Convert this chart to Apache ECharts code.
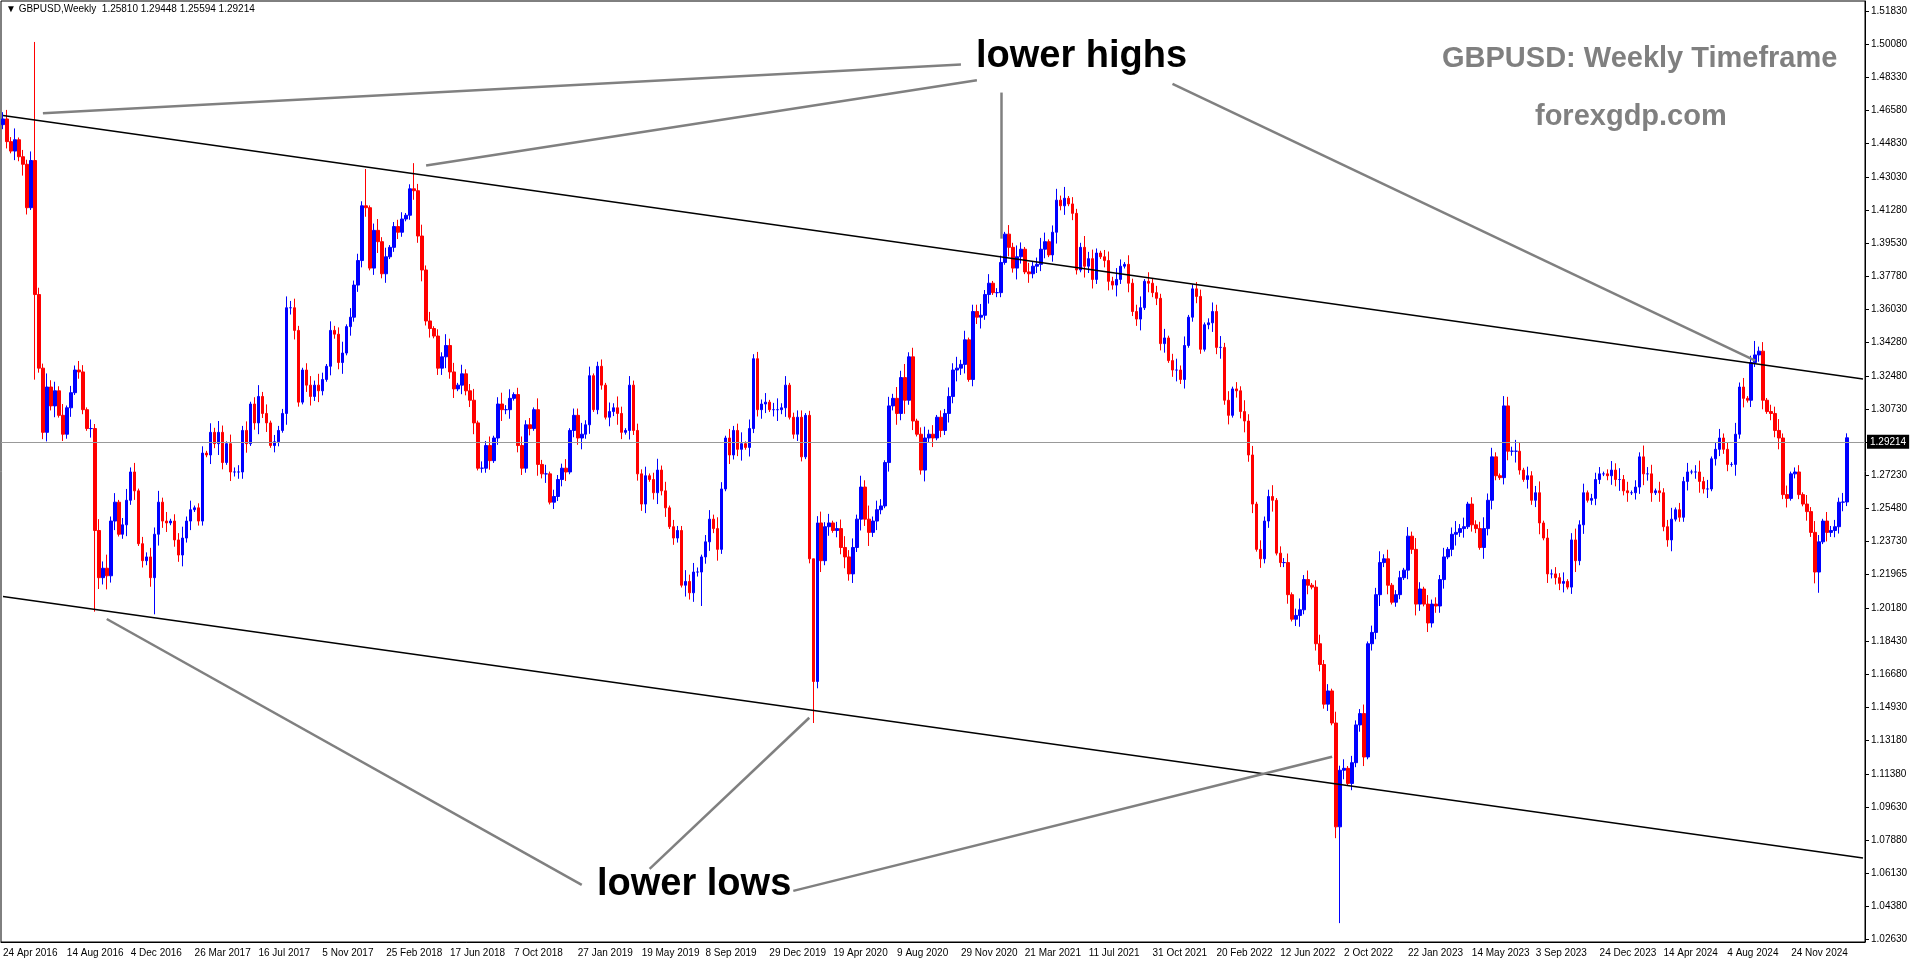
<!DOCTYPE html>
<html><head><meta charset="utf-8">
<script src="https://cdn.jsdelivr.net/npm/echarts@6/dist/echarts.min.js"></script>
<style>html,body{margin:0;padding:0;background:#fff}#c{width:1916px;height:964px}</style>
</head><body><div id="c"></div>
<script>
// weekly closes in 1/10000 units, from week of 24 Apr 2016
const closes2016_2019 = [
14610,14490,14440,14500,14410,14370,14140,14390,13680,13290,
12950,13190,13090,13170,13040,12940,13080,13160,13280,13270,
13070,12970,12970,12430,12180,12230,12190,12480,12580,12410,
12460,12590,12740,12640,12360,12270,12290,12180,12410,12580,
12480,12470,12480,12380,12300,12390,12480,12540,12550,12480,
12840,12830,12950,12890,12950,12790,12890,12740,12740,12740,
12960,12890,13100,13000,13140,13050,13000,12880,12900,12960,
13050,13610,13610,13490,13110,13280,13200,13140,13200,13170,
13230,13300,13490,13470,13320,13370,13510,13560,13730,13860,
14150,14140,13820,14020,13960,13790,13880,13930,14040,14010,
14080,14100,14240,14230,13990,13810,13540,13500,13460,13290,
13350,13410,13270,13180,13200,13260,13170,13120,13000,12760,
12760,12880,12800,12920,13100,13070,13070,13130,13150,12880,
12760,12990,12970,13070,12780,12730,12730,12580,12610,12700,
12760,12740,12960,13040,12920,12940,12990,13250,13070,13300,
13200,13030,13060,13080,13050,12950,12960,13200,12960,12730,
12570,12720,12700,12630,12750,12640,12550,12450,12390,12430,
12140,12160,12100,12210,12210,12290,12370,12490,12440,12330,
12650,12920,12830,12960,12860,12890,12870,12970,13340,13070,
13100,13110,13070];
const closes2020 = [13070,13070,13080,13200, 13030,12940,13030,12820, 13040,12280,11630,12470,12270,
12450,12470,12430,12440, 12340,12290,12200,12340,12490, 12660,12490,12420,12480, 12540,12560,12790,13090,
13130,13050,13240,13120,13350, 13010,12940,12750,12920, 12940,12920,13030,12960, 13050,13140,13280,13290,13310,
13440,13230,13590,13560];
const closes2021 = [13570,13680,13740,13690,13690, 13850,14000,13930,13820, 13880,13920,13800,13790, 13830,13840,13920,13960,
13890,14010,14180,14150,14190, 14160,14110,13810,13930, 13830,13870,13760,13900, 13880,13860,13750,13730,13760,
13830,13840,13740,13590, 13550,13610,13750,13740,13690, 13660,13420,13450,13330, 13280,13280,13230,13410];
const closes2022 = [13560,13710,13670,13390,13520, 13530,13590,13400,13400, 13120,13040,13180,13170, 13060,13010,12830,12570,
12330,12280,12480,12610,12590, 12310,12260,12260,12090, 11960,11980,12010,12170,12140, 12130,11830,11720,11510,
11580,11410,10860,11160, 11170,11090,11200,11400,11460, 11230,11830,11890,12090, 12260,12280,12140,12050];
const closes2023 = [12090,12180,12220,12400,12330, 12040,12120,12040,11940, 12040,12030,12170,12290, 12330,12410,12420,12440,12450,
12570,12460,12440,12340, 12440,12590,12820,12720, 12710,13090,12850,12850,12850, 12750,12700,12720,12590,
12630,12470,12390,12200, 12200,12180,12150,12160,12130, 12380,12270,12460,12630, 12590,12600,12700,12730,12730];
const closes2024 = [12720,12750,12700,12700, 12640,12630,12630,12660, 12820,12730,12730,12630,12640, 12630,12450,12380,12490,
12540,12500,12690,12740, 12740,12740,12690,12650,12650, 12810,12860,12920,12860, 12780,12780,12940,13190,
13130,13120,13320,13360,13380, 13120,13060,13050,12960, 12920,12620,12600,12730, 12740,12620,12570,12530,12420];
const closes2025 = [12210,12370,12480,12420, 12430,12450,12580,12581, 12921];
const firstOpen = 14580;
// upper / lower wick sizes, unit = 12 pips
const upperWicks = "3425132413 2634251324 3142536241 3524132435 2413352412 3142531423 2413524132 2534213425 3142351423 2413524123 3124352413 2534142351 3241352413 4231524132 2413352412 3142531423 2413524132 2534213425 3142351423 2413524123 3124352413 4534253624 3142536241 3524132435 2413352412 3142531423 5413524132 2534213425 3142351423 2413524123 3124352413 2534142351 3241352413 4231524132 2413352412 3142531423 2413524132 3534213425 4142351423 2413524123 3124352413 2534142351 3241352413 4231524132 2413352412 3142531423 241";
const lowerWicks = "2314253142 3425132413 2142536341 2524132435 3413352412 2142531423 3413524132 1534213425 2142351423 3413524123 2124352413 3534142351 2241352413 3231524132 3413352412 2142531423 3413524132 1534213425 2142351423 4413524123 2124352413 3534253624 2142536241 2524132435 3413352412 2142531423 3413524132 1534213425 2142351423 3413524123 2124352413 3534142351 2241352413 3231524132 3413352412 2142531423 3413524132 1534213425 2142351423 3413524123 2124352413 3534142351 2241352413 3231524132 3413352412 2142531423 342";
// notable extremes
const spikeDates = ["19 Jun 2016","2 Oct 2016","15 Jan 2017","21 Jan 2018","15 Apr 2018","1 Sep 2019","15 Mar 2020","30 May 2021","25 Sep 2022","9 Jul 2023","22 Sep 2024","12 Jan 2025","2 Mar 2025"];
const spikeHigh  = [1.5018,null,null,1.4345,1.4376,null,1.2200,1.4250,null,1.3142,1.3434,null,1.29448];
const spikeLow   = [1.3229,1.2000,1.1986,null,null,1.2030,1.1410,null,1.0350,null,null,1.2100,1.25594];
const yTicks = [1.51830,1.50080,1.48330,1.46580,1.44830,1.43030,1.41280,1.39530,1.37780,1.36030,1.34280,1.32480,1.30730,1.28980,1.27230,1.25480,1.23730,1.21965,1.20180,1.18430,1.16680,1.14930,1.13180,1.11380,1.09630,1.07880,1.06130,1.04380,1.02630];
const lastPrice = 1.29214;

const closes = [].concat(closes2016_2019,closes2020,closes2021,closes2022,closes2023,closes2024,closes2025).map(v=>v/10000);
const up = upperWicks.replace(/ /g,'').split('').map(Number);
const dn = lowerWicks.replace(/ /g,'').split('').map(Number);
const M = ['Jan','Feb','Mar','Apr','May','Jun','Jul','Aug','Sep','Oct','Nov','Dec'];
const cats = [];
const start = Date.UTC(2016,3,24);
for (let i=0;i<closes.length+4;i++){const d=new Date(start+i*7*86400000);cats.push(d.getUTCDate()+' '+M[d.getUTCMonth()]+' '+d.getUTCFullYear());}
const data = closes.map((c,i)=>{
  const o = i===0 ? firstOpen/10000 : closes[i-1];
  let h = Math.max(o,c)+(up[i]||0)*0.0012, l = Math.min(o,c)-(dn[i]||0)*0.0012;
  const k = spikeDates.indexOf(cats[i]);
  if (k>=0){ if(spikeHigh[k]!=null) h=spikeHigh[k]; if(spikeLow[k]!=null) l=spikeLow[k]; }
  h=Math.max(h,o,c); l=Math.min(l,o,c);
  return [o,c,l,h];
});
const N = cats.length-1;
const lastLabel = closes.length-10;
const gray = {color:'#808080',width:2.5,type:'solid'};
const black = {color:'#000',width:1.5,type:'solid'};
const ln = (a,b,s)=>[{coord:a,lineStyle:s},{coord:b}];
const chart = echarts.init(document.getElementById('c'));
chart.setOption({
  animation:false, backgroundColor:'#fff',
  grid:{left:1,right:51,top:1,bottom:22,show:true,borderColor:'#000',borderWidth:1},
  xAxis:{type:'category',data:cats,boundaryGap:true,
    axisLine:{lineStyle:{color:'#000'}},
    axisTick:{interval:15,alignWithLabel:true,length:4,lineStyle:{color:'#000'}},
    axisLabel:{interval:15,align:'left',fontSize:10,color:'#000',fontFamily:'Liberation Sans',margin:6,
      formatter:(v,i)=> i>lastLabel ? '' : v},
    splitLine:{show:false}},
  yAxis:{type:'value',position:'right',min:1.0250,max:1.5235,scale:true,
    axisLine:{show:true,lineStyle:{color:'#000'}},
    axisTick:{show:true,length:4,customValues:yTicks,lineStyle:{color:'#000'}},
    axisLabel:{customValues:yTicks,formatter:v=>v.toFixed(5),fontSize:10,color:'#000',fontFamily:'Liberation Sans',margin:6},
    splitLine:{show:false}},
  series:[{type:'candlestick',data:data,barWidth:3,
    itemStyle:{color:'#0000ff',color0:'#ff0000',borderColor:'#0000ff',borderColor0:'#ff0000',borderWidth:1},
    markLine:{symbol:'none',silent:true,animation:false,label:{show:false},lineStyle:{type:'solid'},
      data:[
        ln([0,1.4629],[N,1.3233],black),
        ln([0,1.2080],[N,1.0695],black),
        ln([10,1.4641],[240,1.4899],gray),
        ln([106,1.4363],[244,1.4815],gray),
        ln([250,1.4750],[250,1.3976],gray),
        ln([293,1.4796],[439,1.3330],gray),
        ln([26,1.1961],[145,1.0553],gray),
        ln([162,1.0637],[202,1.1438],gray),
        ln([198,1.0521],[333,1.1231],gray),
        {yAxis:lastPrice,lineStyle:{color:'#999',width:1,type:'solid'},
          label:{show:true,position:'end',formatter:lastPrice.toFixed(5),backgroundColor:'#000',color:'#fff',fontSize:10,padding:[2,3],distance:2}}
      ]}}],
  graphic:[
    {type:'text',left:6,top:4,style:{text:'▼ GBPUSD,Weekly  1.25810 1.29448 1.25594 1.29214',fontSize:10,fill:'#000',fontFamily:'Liberation Sans'}},
    {type:'text',left:1442,top:44,style:{text:'GBPUSD: Weekly Timeframe',fontSize:29,fontWeight:'bold',fill:'#808080',fontFamily:'Liberation Sans'}},
    {type:'text',left:1535,top:102,style:{text:'forexgdp.com',fontSize:29,fontWeight:'bold',fill:'#808080',fontFamily:'Liberation Sans'}},
    {type:'text',left:976,top:38,style:{text:'lower highs',fontSize:38,fontWeight:'bold',fill:'#000',fontFamily:'Liberation Sans'}},
    {type:'text',left:597,top:866,style:{text:'lower lows',fontSize:38,fontWeight:'bold',fill:'#000',fontFamily:'Liberation Sans'}}
  ]
});
</script></body></html>
